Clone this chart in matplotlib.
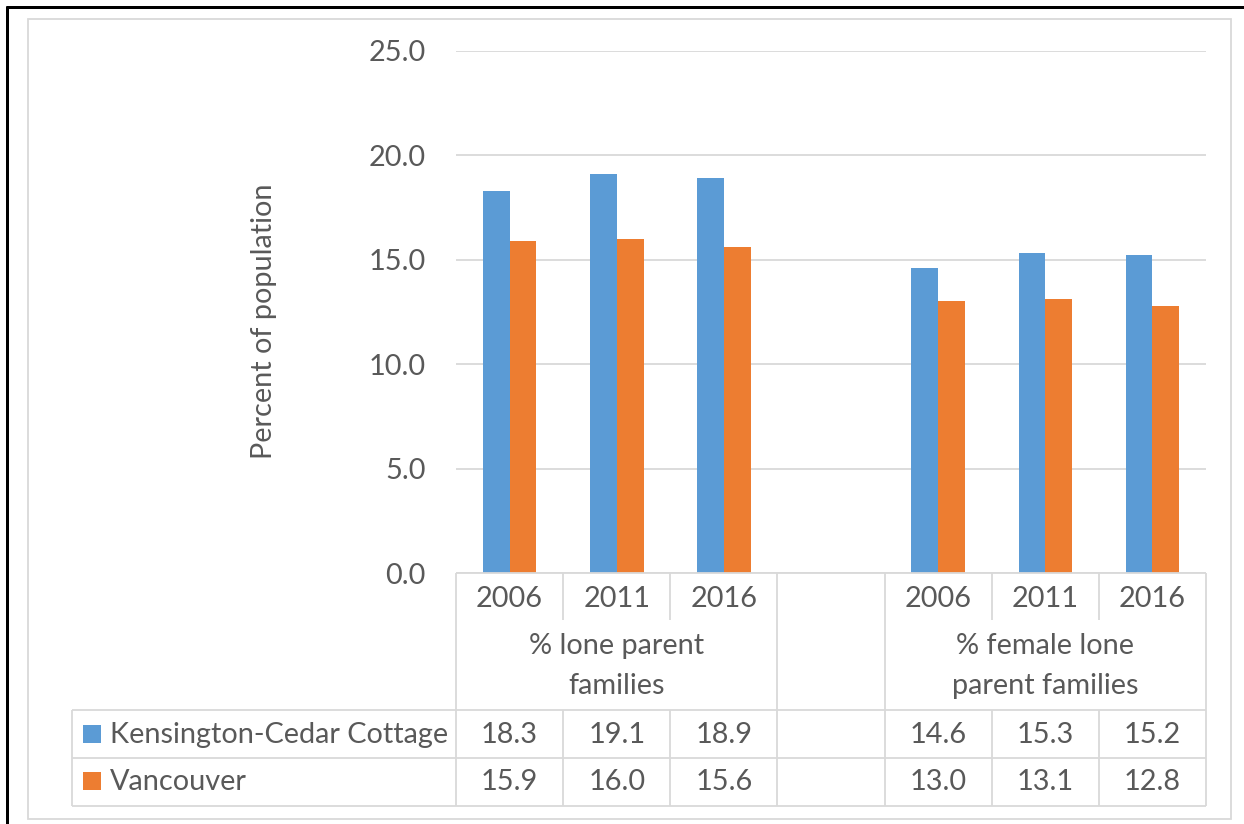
import matplotlib
matplotlib.use("Agg")
import matplotlib.pyplot as plt
import numpy as np
from matplotlib.lines import Line2D
from matplotlib.patches import Rectangle
from matplotlib.transforms import Affine2D

# ---- data ----
years = ["2006", "2011", "2016", "", "2006", "2011", "2016"]
groups = ["% lone parent\nfamilies", "% female lone\nparent families"]
group_centers = [1, 5]
series_names = ["Kensington-Cedar Cottage", "Vancouver"]
kcc = [18.3, 19.1, 18.9, np.nan, 14.6, 15.3, 15.2]
van = [15.9, 16.0, 15.6, np.nan, 13.0, 13.1, 12.8]
colors = ["#5B9BD5", "#ED7D31"]
yticks = [0, 5, 10, 15, 20, 25]

TXT = "#595959"
GRID = "#D9D9D9"
FONT = ["Lato", "DejaVu Sans"]
plt.rcParams["font.family"] = FONT
FS = 20.8

W, H = 1244, 824
fig = plt.figure(figsize=(W / 100, H / 100), dpi=100)
pix = Affine2D().scale(1 / W, -1 / H).translate(0, 1) + fig.transFigure

def hline(x0, x1, y, color=GRID, lw=1.8):
    fig.add_artist(Line2D([x0, x1], [y, y], transform=pix, color=color, lw=lw * 0.72,
                          solid_capstyle="butt"))

def vline(x, y0, y1, color=GRID, lw=1.8):
    fig.add_artist(Line2D([x, x], [y0, y1], transform=pix, color=color, lw=lw * 0.72,
                          solid_capstyle="butt"))

# outer frame
hline(6, W, 7, color="black", lw=3)
vline(7, 6, H, color="black", lw=3)
# chart border
fig.add_artist(Rectangle((28, 19), 1231 - 28, 819 - 19, transform=pix, fill=False,
                         edgecolor=GRID, lw=1.8 * 0.72))

top, bot = 50.7, 573.0
left, right = 456.0, 1206.0
ax = fig.add_axes([left / W, 1 - bot / H, (right - left) / W, (bot - top) / H])
x = np.arange(len(years))
bw = 0.25
ax.bar(x - bw / 2, kcc, bw, color=colors[0], zorder=3)
ax.bar(x + bw / 2, van, bw, color=colors[1], zorder=3)
ax.set_xlim(-0.5, len(years) - 0.5)
ax.set_ylim(0, 25)
ax.set_yticks(yticks)
ax.set_yticklabels([f"{v:.1f}" for v in yticks])
ax.set_xticks([])
ax.tick_params(axis="y", length=0, pad=22, labelsize=FS, labelcolor=TXT)
ax.yaxis.grid(True, color=GRID, lw=1.8 * 0.72)
ax.set_axisbelow(True)
for s in ax.spines.values():
    s.set_visible(False)
ax.set_facecolor("none")
fig.text(264 / W, 1 - 321 / H, "Percent of population", rotation=90, ha="center",
         va="center", fontsize=FS, color=TXT)

# column boundaries in pixels from the data scale
def xpx(v):
    return ax.transData.transform((v, 0))[0]

bounds = [xpx(i - 0.5) for i in range(len(years) + 1)]
centers = [xpx(i) for i in range(len(years))]

y_axis, y_year, y_grp, y_r1, y_r2 = 573, 620, 710, 758, 806
tab_left = 72

# horizontal lines
hline(left, right, y_axis)
hline(tab_left, right, y_grp)
hline(tab_left, right, y_r1)
hline(tab_left, right, y_r2)
# vertical lines
vline(tab_left, y_grp, y_r2)
for i, b in enumerate(bounds):
    full = i in (0, 3, 4, 7)
    if full:
        vline(b, y_axis, y_r2)
    else:
        vline(b, y_axis, y_year)
        vline(b, y_grp, y_r2)

# year labels
for c, yl in zip(centers, years):
    if yl:
        fig.text(c / W, 1 - 599 / H, yl, ha="center", va="center", fontsize=FS, color=TXT)
# group labels
for gc, g in zip(group_centers, groups):
    fig.text(xpx(gc) / W, 1 - 666 / H, g, ha="center", va="center", fontsize=FS,
             color=TXT, linespacing=1.62)

# legend rows + values
rows = [(735, kcc), (782, van)]
for (yc, vals), name, col in zip(rows, series_names, colors):
    fig.add_artist(Rectangle((83, yc - 10), 18, 18, transform=pix, color=col, lw=0))
    fig.text(110 / W, 1 - yc / H, name, ha="left", va="center", fontsize=FS, color=TXT)
    for c, v in zip(centers, vals):
        if not np.isnan(v):
            fig.text(c / W, 1 - yc / H, f"{v:.1f}", ha="center", va="center",
                     fontsize=FS, color=TXT)

fig.savefig("out.png", dpi=100, facecolor="white")
